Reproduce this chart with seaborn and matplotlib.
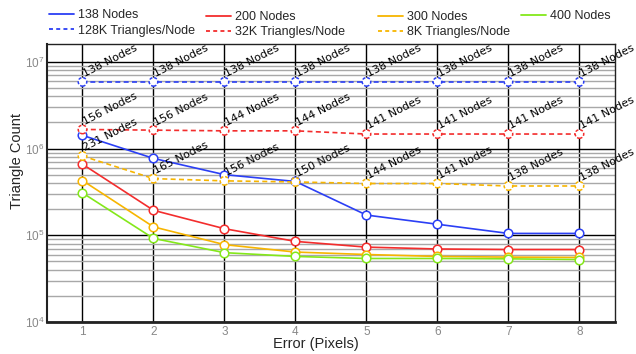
import numpy as np
import pandas as pd
import matplotlib
matplotlib.use("Agg")
import matplotlib.pyplot as plt
import seaborn as sns
from matplotlib.lines import Line2D
from matplotlib.ticker import LogLocator, NullFormatter

errors = [1, 2, 3, 4, 5, 6, 7, 8]

nodes_138 = [1.42e6, 7.7e5, 5.0e5, 4.17e5, 1.71e5, 1.34e5, 1.05e5, 1.05e5]
nodes_200 = [6.6e5, 1.94e5, 1.19e5, 8.5e4, 7.3e4, 6.95e4, 6.85e4, 6.85e4]
nodes_300 = [4.28e5, 1.25e5, 7.8e4, 6.4e4, 6.0e4, 5.7e4, 5.6e4, 5.55e4]
nodes_400 = [3.08e5, 9.2e4, 6.3e4, 5.7e4, 5.4e4, 5.4e4, 5.35e4, 5.25e4]

tri_128k = [5.87e6, 5.87e6, 5.87e6, 5.87e6, 5.87e6, 5.87e6, 5.87e6, 5.87e6]
tri_32k = [1.66e6, 1.63e6, 1.6e6, 1.6e6, 1.47e6, 1.47e6, 1.47e6, 1.47e6]
tri_8k = [8.2e5, 4.5e5, 4.24e5, 4.12e5, 3.95e5, 3.95e5, 3.7e5, 3.7e5]

labels_128k = [138, 138, 138, 138, 138, 138, 138, 138]
labels_32k = [156, 156, 144, 144, 141, 141, 141, 141]
labels_8k = [231, 165, 156, 150, 144, 141, 138, 138]

BLUE = "#2b3ff5"
RED = "#f32d2d"
YEL = "#f7b500"
GRN = "#84e81a"
DASH = (0, (3, 2))

sns.set_style("white")
plt.rcParams["font.family"] = ["Liberation Sans", "DejaVu Sans"]
plt.rcParams["mathtext.fontset"] = "custom"
plt.rcParams["mathtext.rm"] = "Liberation Sans"
plt.rcParams["mathtext.it"] = "Liberation Sans:italic"
plt.rcParams["mathtext.bf"] = "Liberation Sans:bold"

fig = plt.figure(figsize=(6.36, 3.54), dpi=100)
ax = fig.add_axes([0.0739, 0.0904, 0.893, 0.785])

series = [
    ("138 Nodes", nodes_138, BLUE, False, None),
    ("128K Triangles/Node", tri_128k, BLUE, True, labels_128k),
    ("200 Nodes", nodes_200, RED, False, None),
    ("32K Triangles/Node", tri_32k, RED, True, labels_32k),
    ("300 Nodes", nodes_300, YEL, False, None),
    ("8K Triangles/Node", tri_8k, YEL, True, labels_8k),
    ("400 Nodes", nodes_400, GRN, False, None),
]

for name, vals, col, dashed, labs in series:
    df = pd.DataFrame({"x": errors, "y": vals})
    sns.lineplot(data=df, x="x", y="y", ax=ax, color=col, linewidth=1.2,
                 legend=False, zorder=3)
    line = ax.lines[-1]
    if dashed:
        line.set_linestyle(DASH)
    sns.scatterplot(data=df, x="x", y="y", ax=ax, s=38, marker="o",
                    facecolor="white", edgecolor=col, linewidth=1.1,
                    linestyle=(0, (2.0, 1.2)) if dashed else "solid",
                    legend=False, zorder=4)
    if labs is not None:
        for x, y, n in zip(errors, vals, labs):
            ax.annotate(f"{n} Nodes", (x, y), xytext=(2.5, 2), textcoords="offset points",
                        rotation=27, rotation_mode="anchor", ha="left", va="bottom",
                        fontsize=8, family="DejaVu Sans", color="black", zorder=6,
                        annotation_clip=False)

ax.set_yscale("log")
ax.set_ylim(1e4, 1.6e7)
ax.set_xlim(0.5, 8.5)
ax.set_xticks(errors)
ax.yaxis.set_major_locator(LogLocator(base=10, numticks=10))
ax.yaxis.set_minor_locator(LogLocator(base=10, subs=np.arange(2, 10), numticks=20))
ax.yaxis.set_minor_formatter(NullFormatter())

ax.grid(True, which="major", axis="y", color="black", linewidth=1.0)
ax.grid(True, which="minor", axis="y", color="#a8a8a8", linewidth=1.0)
ax.grid(True, which="major", axis="x", color="black", linewidth=1.0)
ax.set_axisbelow(True)

for s in ax.spines.values():
    s.set_color("#222222")
    s.set_linewidth(1.0)
ax.spines["bottom"].set_linewidth(2.0)
ax.spines["left"].set_linewidth(1.5)

ax.tick_params(axis="both", which="both", length=0, labelcolor="#888888", labelsize=8.5)
ax.tick_params(axis="x", pad=3)
ax.tick_params(axis="y", pad=2)
ax.set_xlabel("Error (Pixels)", fontsize=10.5)
ax.set_ylabel("Triangle Count", fontsize=10.5)
ax.xaxis.set_label_coords(0.4727, -0.054)
ax.yaxis.set_label_coords(-0.041, 0.58)

# legend: four columns placed like the reference
legend_cols = [
    (49, 23, [("138 Nodes", BLUE, "-"), ("128K Triangles/Node", BLUE, "d")]),
    (206, 24.5, [("200 Nodes", RED, "-"), ("32K Triangles/Node", RED, "d")]),
    (378, 24.5, [("300 Nodes", YEL, "-"), ("8K Triangles/Node", YEL, "d")]),
    (521, 16, [("400 Nodes", GRN, "-")]),
]
W, H = 636.0, 354.0
for px, py, entries in legend_cols:
    hs = [Line2D([], [], color=c, linewidth=1.3,
                 linestyle=(0, (2.2, 1.8)) if st == "d" else "-") for _, c, st in entries]
    ls = [n for n, _, _ in entries]
    leg = fig.legend(hs, ls, loc="center left", bbox_to_anchor=(px / W, 1 - py / H),
                     frameon=False, fontsize=9, handlelength=2.0, handletextpad=0.35,
                     labelspacing=0.25, borderpad=0.0, borderaxespad=0.0)

fig.savefig("out.png", dpi=100)
